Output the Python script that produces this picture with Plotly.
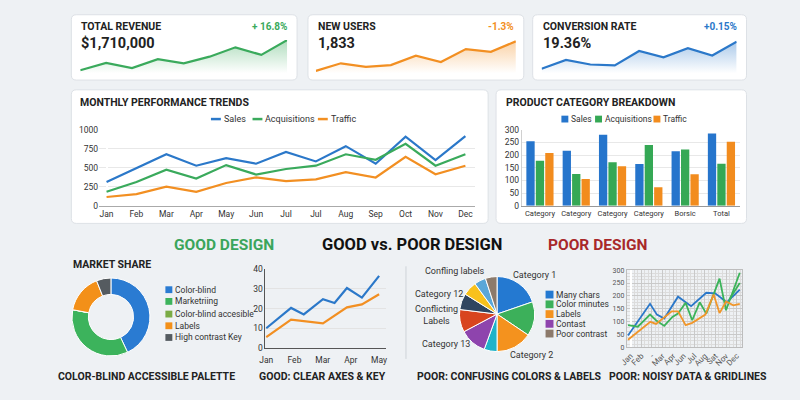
import plotly.graph_objects as go

W, H = 800, 400

BG = "#eef1f4"
BLUE = "#2b78c9"
GREEN = "#3aaa5c"
ORANGE = "#f28f22"
INK = "#222222"
FONT = "Roboto, Liberation Sans, sans-serif"

# ---- KPI cards ----
kpi_titles = ["TOTAL REVENUE", "NEW USERS", "CONVERSION RATE"]
kpi_values = ["$1,710,000", "1,833", "19.36%"]
kpi_deltas = ["+ 16.8%", "-1.3%", "+0.15%"]
revenue_trend = [10, 34, 17, 47, 33, 55, 86, 61, 110]
users_trend = [8, 33, 21, 27, 58, 37, 80, 71, 106]
conversion_trend = [15, 44, 29, 26, 74, 53, 83, 59, 105]

# ---- monthly performance ----
months = ["Jan", "Feb", "Mar", "Apr", "May", "Jun", "Jul", "Jul", "Aug", "Sep", "Oct", "Nov", "Dec"]
sales = [313, 494, 678, 528, 627, 554, 708, 584, 785, 554, 910, 601, 918]
acquisitions = [185, 313, 476, 360, 536, 412, 485, 528, 678, 605, 815, 528, 678]
traffic = [116, 155, 253, 185, 300, 373, 326, 348, 442, 373, 644, 416, 528]
series_names = ["Sales", "Acquisitions", "Traffic"]

# ---- product categories ----
product_cats = ["Category", "Category", "Category", "Category", "Borsic", "Total"]
prod_sales = [255, 217, 280, 165, 215, 285]
prod_acq = [178, 126, 172, 240, 222, 166]
prod_traffic = [208, 106, 156, 73, 125, 253]

# ---- market share donut ----
share_labels = ["Color-blind", "Marketriing", "Color-blind accesible", "Labels", "High contrast Key"]
share_values = [43, 35, 0, 16, 6]
share_colors = ["#2a7bd2", "#3cb35c", "#7aab45", "#f39019", "#555b60"]

# ---- good line chart ----
good_months = ["Jan", "Feb", "Mar", "Apr", "May"]
good_blue_x = [0, 0.88, 1.33, 2.01, 2.42, 2.86, 3.39, 4.0]
good_blue = [10.1, 20.4, 17.1, 24.8, 22.9, 30.5, 25.6, 36.6]
good_orange_x = [0, 0.88, 2.01, 2.86, 3.39, 4.0]
good_orange = [5.6, 14.5, 12.6, 20.7, 22.2, 27.3]

# ---- poor pie ----
poor_slices = ["Category 1", "Color minutes", "Category 2", "Teal", "Category 13",
               "Conflicting Labels", "Category 12", "Yellow", "Confling labels", "Poor contrast"]
poor_values = [71, 53, 56, 20, 42, 35, 25, 22, 18, 18]
poor_colors = ["#2479d1", "#3cb05a", "#f4921e", "#1fb3c9", "#8e44ad",
               "#d8451f", "#2f4560", "#f8c11c", "#5aa7d8", "#8c7a6b"]
poor_callouts = ["Confling labels", "Category 1", "Category 12", "Conflicting<br>Labels", "Category 13", "Category 2"]
poor_keys = ["Many chars", "Color minutes", "Labels", "Contast", "Poor contrast"]
poor_key_colors = ["#2479d1", "#3cb05a", "#f4921e", "#8e44ad", "#8c7a6b"]

# ---- noisy chart ----
noisy_ticks = ["Jan", "Feb", "-", "Mar", "Apr", "Jun", "Jul", "Aug", "Sat", "Nov", "Dec"]
noisy_blue_x = [-0.25, 1.83, 2.48, 3.17, 4.47, 5.71, 7.14, 7.98, 9.07, 10.3]
noisy_blue = [46, 169, 127, 112, 197, 160, 212, 210, 175, 224]
noisy_green_x = [-0.25, 0.68, 1.83, 2.39, 3.17, 3.94, 4.47, 5.19, 5.81, 6.52, 7.14, 8.39, 9.0, 10.3]
noisy_green = [86, 80, 127, 105, 83, 118, 131, 173, 105, 175, 131, 267, 144, 290]
noisy_green2_x = [9.3, 10.3]
noisy_green2 = [185, 250]
noisy_orange_x = [-0.25, 1.15, 1.86, 2.39, 3.88, 4.47, 5.19, 5.81, 7.05, 7.83, 8.39, 9.0, 9.69, 10.3]
noisy_orange = [29, 77, 99, 91, 140, 140, 86, 95, 127, 205, 133, 178, 163, 169]


def px(x):
    return x / W


def py(y):
    return 1 - y / H


def dom_x(a, b):
    return [a / W, b / W]


def dom_y(top, bottom):
    return [1 - bottom / H, 1 - top / H]


def card(x0, y0, x1, y1, r=5):
    X0, X1, Y0, Y1 = px(x0), px(x1), py(y0), py(y1)
    rx, ry = r / W, r / H
    path = (f"M{X0 + rx},{Y0} L{X1 - rx},{Y0} Q{X1},{Y0} {X1},{Y0 - ry} "
            f"L{X1},{Y1 + ry} Q{X1},{Y1} {X1 - rx},{Y1} L{X0 + rx},{Y1} "
            f"Q{X0},{Y1} {X0},{Y1 + ry} L{X0},{Y0 - ry} Q{X0},{Y0} {X0 + rx},{Y0} Z")
    return dict(type="path", xref="paper", yref="paper", path=path, layer="below",
                fillcolor="white", line=dict(color="#dde1e6", width=1))


def text(x, y, s, size=10, color=INK, bold=False, xanchor="left"):
    if bold:
        s = f"<b>{s}</b>"
    return dict(x=px(x), y=py(y), xref="paper", yref="paper", text=s, showarrow=False,
                xanchor=xanchor, yanchor="middle", align="center", borderpad=0,
                font=dict(size=size, color=color, family=FONT))


def swatch(x, y, color, size=7):
    return dict(type="rect", xref="paper", yref="paper", x0=px(x), x1=px(x + size),
                y0=py(y + size / 2), y1=py(y - size / 2), fillcolor=color, line=dict(width=0))


def dash(x, y, color, length=10):
    return dict(type="line", xref="paper", yref="paper", x0=px(x), x1=px(x + length),
                y0=py(y), y1=py(y), line=dict(color=color, width=2.5))


TICKS = dict(size=8.5, color="#333", family=FONT)
CAPTION = 10.5

fig = go.Figure()
shapes = []
annotations = []
axes = {}

# ---------- KPI cards ----------
card_boxes = [(65, 293), (304, 522), (531, 747)]
spark_boxes = [(74, 283), (312, 514), (540, 737)]
spark_series = [revenue_trend, users_trend, conversion_trend]
spark_colors = [GREEN, ORANGE, BLUE]
spark_rgb = ["58,170,92", "242,143,34", "43,120,201"]
for i in range(3):
    n = i + 1
    cx0, cx1 = card_boxes[i]
    shapes.append(card(cx0, 10, cx1, 77))
    vals = spark_series[i]
    fig.add_trace(go.Scatter(
        x=list(range(len(vals))), y=vals, mode="lines",
        line=dict(color=spark_colors[i], width=2.2),
        fill="tozeroy",
        fillgradient=dict(type="vertical", colorscale=[[0, f"rgba({spark_rgb[i]},0)"],
                                                       [1, f"rgba({spark_rgb[i]},0.4)"]]),
        xaxis=f"x{n}", yaxis=f"y{n}", hoverinfo="skip"))
    sx0, sx1 = spark_boxes[i]
    axes[f"xaxis{n}"] = dict(domain=dom_x(sx0, sx1), range=[0, len(vals) - 1], visible=False)
    axes[f"yaxis{n}"] = dict(domain=dom_y(36, 70), range=[0, 110], visible=False)
    annotations.append(text(cx0 + 9, 22, kpi_titles[i], size=10.5, bold=True))
    annotations.append(text(cx0 + 9, 40, kpi_values[i], size=14.5, bold=True))
    annotations.append(text(cx1 - 9, 22, kpi_deltas[i], size=10, color=spark_colors[i],
                            bold=True, xanchor="right"))

# ---------- monthly performance trends ----------
shapes.append(card(65, 87, 486, 224))
annotations.append(text(73, 100, "MONTHLY PERFORMANCE TRENDS", size=10.5, bold=True))
month_idx = list(range(len(months)))
for name, vals, col in zip(series_names, [sales, acquisitions, traffic], [BLUE, GREEN, ORANGE]):
    fig.add_trace(go.Scatter(x=month_idx, y=vals, mode="lines", name=name,
                             line=dict(color=col, width=2.2), xaxis="x4", yaxis="y4"))
axes["xaxis4"] = dict(domain=dom_x(93, 473), range=[-0.25, 12.33], tickmode="array",
                      tickvals=month_idx, ticktext=months, showgrid=False, showline=True,
                      linecolor="#aaaaaa", ticks="", tickfont=TICKS)
axes["yaxis4"] = dict(domain=dom_y(128, 206), range=[0, 1000], tickvals=[0, 250, 500, 750, 1000],
                      gridcolor="#e8e8e8", zeroline=False, ticks="", tickfont=TICKS)
for x0, name, col in zip([206, 248, 314], series_names, [BLUE, GREEN, ORANGE]):
    shapes.append(dash(x0, 117, col))
    annotations.append(text(x0 + 12, 117, name, size=9, color="#333"))

# ---------- product category breakdown ----------
shapes.append(card(494, 87, 747, 224))
annotations.append(text(503, 100, "PRODUCT CATEGORY BREAKDOWN", size=10.5, bold=True))
cat_idx = list(range(len(product_cats)))
bar_colors = ["#2675cc", "#35a855", "#f28c1e"]
for name, vals, col in zip(series_names, [prod_sales, prod_acq, prod_traffic], bar_colors):
    fig.add_trace(go.Bar(x=cat_idx, y=vals, name=name, marker=dict(color=col, line=dict(width=0)),
                         xaxis="x5", yaxis="y5"))
axes["xaxis5"] = dict(domain=dom_x(520, 740), range=[-0.5, 5.5], tickmode="array",
                      tickvals=cat_idx, ticktext=product_cats, tickangle=0, showgrid=False,
                      showline=True, linecolor="#999999", ticks="",
                      tickfont=dict(size=7.5, color="#333", family=FONT))
axes["yaxis5"] = dict(domain=dom_y(128, 206), range=[0, 300], dtick=50, gridcolor="#e8e8e8",
                      zeroline=False, showline=True, linecolor="#d0d0d0", ticks="", tickfont=TICKS)
for x0, name, col in zip([560, 594, 653], series_names, bar_colors):
    shapes.append(swatch(x0, 117, col, size=7))
    annotations.append(text(x0 + 9, 117, name, size=8.5, color="#333"))

# ---------- section headings ----------
annotations.append(text(219, 246, "GOOD DESIGN", size=15.5, color="#3aa55b", bold=True, xanchor="center"))
annotations.append(text(409, 246, "GOOD vs. POOR DESIGN", size=16.5, color="#111", bold=True, xanchor="center"))
annotations.append(text(597, 246, "POOR DESIGN", size=15.5, color="#a8282a", bold=True, xanchor="center"))

# ---------- market share donut ----------
annotations.append(text(66, 266, "MARKET SHARE", size=10.5, bold=True))
fig.add_trace(go.Pie(labels=share_labels, values=share_values, hole=0.58, sort=False,
                     direction="clockwise", textinfo="none", showlegend=False,
                     marker=dict(colors=share_colors, line=dict(color="white", width=1)),
                     domain=dict(x=dom_x(65, 145), y=dom_y(280, 360))))
for y0, name, col in zip([292, 304, 317, 329, 341], share_labels, share_colors):
    shapes.append(swatch(160, y0, col, size=7))
    annotations.append(text(169, y0, name, size=8.5, color="#333"))
annotations.append(text(141, 381, "COLOR-BLIND ACCESSIBLE PALETTE", size=CAPTION, bold=True, xanchor="center"))

# ---------- good line chart ----------
fig.add_trace(go.Scatter(x=good_blue_x, y=good_blue, mode="lines", line=dict(color=BLUE, width=2.2),
                         xaxis="x6", yaxis="y6"))
fig.add_trace(go.Scatter(x=good_orange_x, y=good_orange, mode="lines", line=dict(color=ORANGE, width=2.2),
                         xaxis="x6", yaxis="y6"))
axes["xaxis6"] = dict(domain=dom_x(261, 383), range=[-0.03, 4.25], tickmode="array",
                      tickvals=list(range(len(good_months))), ticktext=good_months, showgrid=False,
                      showline=True, linecolor="#555", ticks="", tickfont=TICKS, ticklabelstandoff=4)
axes["yaxis6"] = dict(domain=dom_y(271, 352), range=[0, 40], dtick=10, gridcolor="#e3e3e3",
                      zeroline=False, showline=True, linecolor="#555", ticks="", tickfont=TICKS)
annotations.append(text(319, 381, "GOOD: CLEAR AXES & KEY", size=CAPTION, bold=True, xanchor="center"))

# separator
shapes.append(dict(type="line", xref="paper", yref="paper", x0=px(403), x1=px(403),
                   y0=py(268), y1=py(363), line=dict(color="#cfd3d8", width=1)))

# ---------- poor pie ----------
fig.add_trace(go.Pie(labels=poor_slices, values=poor_values, sort=False, direction="clockwise",
                     textinfo="none", showlegend=False,
                     marker=dict(colors=poor_colors, line=dict(color="white", width=1)),
                     domain=dict(x=dom_x(456.5, 533.5), y=dom_y(278.5, 355.5))))
callout_pos = [(453, 273), (533, 277), (436, 296), (434, 318), (443, 348), (530, 359)]
for (cx, cy), s in zip(callout_pos, poor_callouts):
    annotations.append(text(cx, cy, s, size=9, color="#333", xanchor="center"))
for y0, name, col in zip([297, 307, 317, 327, 337], poor_keys, poor_key_colors):
    shapes.append(swatch(544, y0, col, size=8))
    annotations.append(text(554, y0, name, size=8.5, color="#333"))
annotations.append(text(508, 381, "POOR: CONFUSING COLORS & LABELS", size=CAPTION, bold=True, xanchor="center"))

# ---------- noisy chart ----------
for xs, ys, col in [(noisy_blue_x, noisy_blue, "#2a77c9"), (noisy_green_x, noisy_green, "#3bb35a"),
                    (noisy_green2_x, noisy_green2, "#3bb35a"), (noisy_orange_x, noisy_orange, "#f0962a")]:
    fig.add_trace(go.Scatter(x=xs, y=ys, mode="lines", line=dict(color=col, width=1.8),
                             xaxis="x7", yaxis="y7"))
axes["xaxis7"] = dict(domain=dom_x(626, 742), range=[-0.37, 10.47], tickmode="array",
                      tickvals=list(range(len(noisy_ticks))), ticktext=noisy_ticks, tickangle=-45,
                      gridcolor="#c9c9c9", showline=True, mirror=True, linecolor="#bdbdbd",
                      ticks="", tickfont=dict(size=8, color="#555", family=FONT),
                      minor=dict(dtick=1 / 3, tick0=0, showgrid=True, gridcolor="#dcdcdc"))
axes["yaxis7"] = dict(domain=dom_y(272, 351), range=[0, 300], dtick=50, gridcolor="#c9c9c9",
                      zeroline=False, showline=True, mirror=True, linecolor="#bdbdbd", ticks="",
                      tickfont=dict(size=7, color="#555", family=FONT),
                      minor=dict(dtick=12.5, showgrid=True, gridcolor="#dcdcdc"))
annotations.append(text(688, 381, "POOR: NOISY DATA & GRIDLINES", size=CAPTION, bold=True, xanchor="center"))

for n in range(1, 8):
    axes[f"yaxis{n}"]["anchor"] = f"x{n}"
    axes[f"xaxis{n}"]["anchor"] = f"y{n}"
    axes[f"xaxis{n}"]["fixedrange"] = True
    axes[f"yaxis{n}"]["fixedrange"] = True

fig.update_layout(
    width=W, height=H,
    margin=dict(l=0, r=0, t=0, b=0),
    paper_bgcolor=BG, plot_bgcolor="rgba(0,0,0,0)",
    showlegend=False, hovermode=False,
    barmode="group", bargap=0.22, bargroupgap=0.12,
    font=dict(family=FONT, color=INK),
    shapes=shapes, annotations=annotations,
    **axes,
)

# page body has a default 8px margin; drop it so the figure fills the window
fig.write_html("out.html", config={"displayModeBar": False},
               post_script="document.body.style.margin = '0';")
